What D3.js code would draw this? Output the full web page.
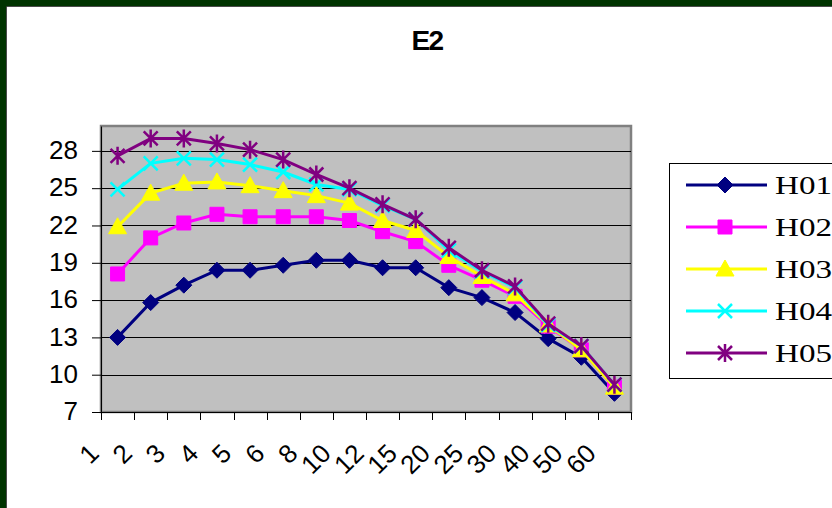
<!DOCTYPE html>
<html>
<head>
<meta charset="utf-8">
<script src="https://cdn.jsdelivr.net/npm/d3@7"></script>
<style>
  body { margin: 0; background: #fff; }
  svg { display: block; }
</style>
</head>
<body>
<div id="chart"></div>
<script>
// categories (x axis)
var cats = ["1", "2", "3", "4", "5", "6", "8", "10", "12", "15", "20", "25", "30", "40", "50", "60"];
var seriesNames = ["H01", "H02", "H03", "H04", "H05"];
var H01 = [13.0, 15.8, 17.2, 18.4, 18.4, 18.8, 19.2, 19.2, 18.6, 18.6, 17.0, 16.2, 15.0, 12.9, 11.4, 8.5];
var H02 = [18.1, 21.0, 22.2, 22.9, 22.7, 22.7, 22.7, 22.4, 21.5, 20.7, 18.8, 17.6, 16.3, 13.9, 12.0, 9.0];
var H03 = [21.9, 24.6, 25.4, 25.5, 25.2, 24.8, 24.4, 23.8, 22.4, 21.6, 19.5, 17.9, 16.5, 14.0, 12.0, 9.0];
var H04 = [24.9, 27.0, 27.4, 27.3, 26.9, 26.3, 25.3, 24.9, 23.6, 22.5, 20.0, 18.3, 17.0, 14.0, 12.3, 9.2];
var H05 = [27.6, 29.0, 29.0, 28.6, 28.1, 27.3, 26.1, 25.0, 23.7, 22.5, 20.2, 18.4, 17.1, 14.1, 12.3, 9.2];
var yTicks = [7, 10, 13, 16, 19, 22, 25, 28];

var width = 832, height = 508;
var plot = {left: 101, right: 631, top: 126, bottom: 412};

var colors = ["#000080", "#ff00ff", "#ffff00", "#00ffff", "#800080"];
var markers = ["diamond", "square", "triangle", "x", "star"];

var series = seriesNames.map(function(n, i) {
  return {name: n, values: [H01, H02, H03, H04, H05][i], color: colors[i], marker: markers[i]};
});

var svg = d3.select("#chart").append("svg")
  .attr("width", width)
  .attr("height", height);

// green frame
svg.append("rect").attr("width", width).attr("height", height).attr("fill", "#003300");
svg.append("rect").attr("x", 7).attr("y", 7).attr("width", width).attr("height", height).attr("fill", "#fff");
svg.append("path").attr("d", "M6.5,7V" + height + "M6.5,6.5H" + width)
  .attr("stroke", "#4a4a4a").attr("stroke-width", 1);

// title
svg.append("text")
  .attr("x", 427).attr("y", 50)
  .attr("text-anchor", "middle")
  .style("font-family", "'Liberation Sans', Arial, sans-serif")
  .style("font-weight", "bold")
  .style("font-size", "28px")
  .style("letter-spacing", "-1.5px")
  .text("E2");

var x = d3.scaleBand().domain(cats).range([plot.left, plot.right]);
var y = d3.scaleLinear().domain([7, 30]).range([plot.bottom, plot.top]);

// plot area
svg.append("rect")
  .attr("x", plot.left).attr("y", plot.top)
  .attr("width", plot.right - plot.left).attr("height", plot.bottom - plot.top)
  .attr("fill", "#c0c0c0")
  .attr("stroke", "#808080").attr("stroke-width", 2.5);

// gridlines
svg.selectAll("line.grid")
  .data(yTicks.slice(1))
  .enter().append("line")
  .attr("class", "grid")
  .attr("x1", plot.left).attr("x2", plot.right)
  .attr("y1", function(d) { return Math.round(y(d)) + 0.5; })
  .attr("y2", function(d) { return Math.round(y(d)) + 0.5; })
  .attr("stroke", "#000").attr("stroke-width", 1);

// y axis
var yAxis = svg.append("g")
  .attr("transform", "translate(" + plot.left + ",0)")
  .call(d3.axisLeft(y).tickValues(yTicks).tickSize(9).tickPadding(14).tickSizeOuter(0));
yAxis.select(".domain").attr("stroke", "#000");
yAxis.selectAll("text")
  .attr("dy", "0.3em")
  .style("font-family", "'Liberation Sans', Arial, sans-serif")
  .style("font-size", "26px")
  .attr("fill", "#000");

// x axis: line, boundary ticks, rotated labels
svg.append("line")
  .attr("x1", plot.left).attr("x2", plot.right)
  .attr("y1", plot.bottom + 0.5).attr("y2", plot.bottom + 0.5)
  .attr("stroke", "#000");
svg.selectAll("line.xtick")
  .data(d3.range(cats.length + 1))
  .enter().append("line")
  .attr("class", "xtick")
  .attr("x1", function(i) { return Math.round(plot.left + i * x.step()) + 0.5; })
  .attr("x2", function(i) { return Math.round(plot.left + i * x.step()) + 0.5; })
  .attr("y1", plot.bottom).attr("y2", plot.bottom + 8)
  .attr("stroke", "#000");
svg.selectAll("text.xlab")
  .data(cats)
  .enter().append("text")
  .attr("class", "xlab")
  .attr("text-anchor", "end")
  .attr("transform", function(d) {
    return "translate(" + (x(d) + x.bandwidth() / 2 - 17) + ",455) rotate(-45)";
  })
  .style("font-family", "'Liberation Sans', Arial, sans-serif")
  .style("font-size", "26px")
  .text(function(d) { return d; });

// markers
var markerPath = {
  diamond: "M0,-8L8,0L0,8L-8,0Z",
  square: "M-7,-7H7V7H-7Z",
  triangle: "M0,-9L9,7H-9Z",
  x: "M-7,-7L7,7M7,-7L-7,7",
  star: "M-7,-7L7,7M7,-7L-7,7M0,-9V9"
};
function drawMarker(g, s) {
  var open = s.marker == "x" || s.marker == "star";
  g.append("path")
    .attr("d", markerPath[s.marker])
    .attr("fill", open ? "none" : s.color)
    .attr("stroke", s.color)
    .attr("stroke-width", open ? 2.5 : 1);
}

var line = d3.line()
  .x(function(d, i) { return x(cats[i]) + x.bandwidth() / 2; })
  .y(function(d) { return y(d); });

series.forEach(function(s) {
  var g = svg.append("g");
  g.append("path")
    .attr("d", line(s.values))
    .attr("fill", "none")
    .attr("stroke", s.color)
    .attr("stroke-width", 3);
  s.values.forEach(function(v, i) {
    var m = g.append("g")
      .attr("transform", "translate(" + (x(cats[i]) + x.bandwidth() / 2) + "," + y(v) + ")");
    drawMarker(m, s);
  });
});

// legend
var legend = svg.append("g");
legend.append("rect")
  .attr("x", 669.5).attr("y", 163.5)
  .attr("width", 200).attr("height", 215)
  .attr("fill", "#fff").attr("stroke", "#000");
series.forEach(function(s, i) {
  var ly = 185 + i * 42;
  var g = legend.append("g");
  g.append("line")
    .attr("x1", 686).attr("x2", 767)
    .attr("y1", ly).attr("y2", ly)
    .attr("stroke", s.color).attr("stroke-width", 3);
  var m = g.append("g").attr("transform", "translate(725," + ly + ")");
  drawMarker(m, s);
  g.append("text")
    .attr("x", 775).attr("y", ly + 9)
    .attr("textLength", 57)
    .attr("lengthAdjust", "spacingAndGlyphs")
    .style("font-family", "'Liberation Serif', 'Times New Roman', serif")
    .style("font-size", "26px")
    .text(s.name);
});
</script>
</body>
</html>
